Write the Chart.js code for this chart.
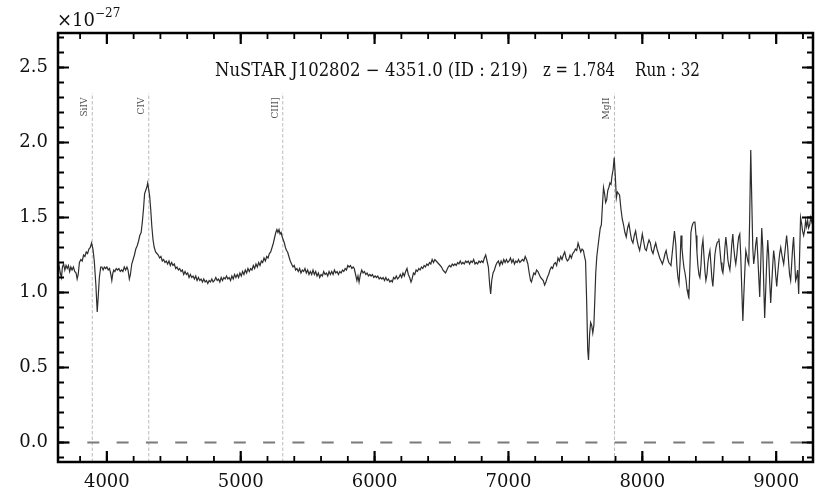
<!DOCTYPE html>
<html>
<head>
<meta charset="utf-8">
<script src="https://cdn.jsdelivr.net/npm/chart.js@4"></script>
<style>
  body { margin: 0; background: #fff; }
  #grafico { display: block; }
</style>
</head>
<body>
<canvas id="grafico" width="830" height="498"></canvas>
<script>
// Datos del espectro (flujo en unidades de 1e-27)
const longitudOnda = [
  3635, 3643, 3652, 3661, 3668, 3677, 3686, 3695, 3704, 3713, 3722, 3731, 3740, 3750, 3760, 3770, 3778, 3786, 3795, 3806,
  3816, 3826, 3836, 3846, 3856, 3866, 3876, 3886, 3896, 3906, 3918, 3928, 3936, 3944, 3954, 3963, 3972, 3981, 3991, 4000,
  4010, 4020, 4030, 4037, 4045, 4052, 4060, 4070, 4080, 4090, 4100, 4110, 4120, 4130, 4140, 4150, 4158, 4168, 4176, 4186,
  4196, 4206, 4216, 4226, 4236, 4246, 4256, 4265, 4274, 4282, 4290, 4298, 4305, 4312, 4320, 4328, 4336, 4345, 4354, 4364,
  4374, 4384, 4394, 4404, 4414, 4424, 4434, 4444, 4454, 4464, 4474, 4484, 4494, 4504, 4514, 4524, 4534, 4544, 4554, 4564,
  4574, 4584, 4594, 4604, 4614, 4624, 4634, 4644, 4654, 4664, 4674, 4684, 4694, 4704, 4714, 4724, 4734, 4744, 4754, 4764,
  4774, 4784, 4794, 4804, 4814, 4824, 4834, 4844, 4854, 4864, 4874, 4884, 4894, 4904, 4914, 4924, 4934, 4944, 4954, 4964,
  4974, 4984, 4994, 5004, 5014, 5024, 5034, 5044, 5054, 5064, 5074, 5084, 5094, 5104, 5114, 5124, 5134, 5144, 5154, 5164,
  5174, 5184, 5194, 5204, 5214, 5224, 5234, 5244, 5254, 5262, 5270, 5278, 5286, 5294, 5302, 5310, 5318, 5326, 5334, 5342,
  5350, 5360, 5370, 5380, 5390, 5400, 5410, 5420, 5430, 5440, 5450, 5460, 5470, 5480, 5490, 5500, 5510, 5520, 5530, 5540,
  5550, 5560, 5570, 5580, 5590, 5600, 5610, 5620, 5630, 5640, 5650, 5660, 5670, 5680, 5690, 5700, 5710, 5720, 5730, 5740,
  5750, 5760, 5770, 5780, 5790, 5800, 5810, 5820, 5830, 5840, 5848, 5858, 5868, 5876, 5884, 5894, 5904, 5914, 5924, 5934,
  5944, 5954, 5964, 5974, 5984, 5994, 6004, 6014, 6024, 6034, 6044, 6054, 6064, 6074, 6084, 6094, 6104, 6114, 6124, 6132,
  6142, 6152, 6162, 6172, 6182, 6192, 6202, 6212, 6222, 6232, 6242, 6252, 6262, 6272, 6280, 6290, 6300, 6310, 6320, 6330,
  6340, 6350, 6360, 6370, 6380, 6390, 6400, 6410, 6420, 6430, 6440, 6450, 6460, 6470, 6480, 6490, 6500, 6510, 6520, 6530,
  6540, 6550, 6560, 6570, 6580, 6590, 6600, 6610, 6620, 6630, 6640, 6650, 6660, 6670, 6680, 6690, 6700, 6710, 6720, 6730,
  6740, 6750, 6760, 6770, 6780, 6790, 6800, 6810, 6820, 6830, 6840, 6850, 6860, 6867, 6875, 6885, 6895, 6905, 6915, 6925,
  6935, 6945, 6955, 6965, 6975, 6985, 6995, 7005, 7015, 7025, 7035, 7045, 7055, 7065, 7075, 7085, 7095, 7105, 7115, 7125,
  7135, 7145, 7155, 7165, 7172, 7180, 7190, 7200, 7210, 7220, 7230, 7240, 7250, 7260, 7270, 7280, 7290, 7300, 7310, 7320,
  7330, 7340, 7350, 7360, 7370, 7380, 7390, 7400, 7410, 7420, 7430, 7440, 7450, 7460, 7470, 7480, 7490, 7500, 7510, 7520,
  7530, 7540, 7550, 7560, 7568, 7576, 7584, 7592, 7598, 7606, 7614, 7622, 7630, 7638, 7645, 7652, 7660, 7668, 7676, 7686,
  7694, 7702, 7710, 7718, 7726, 7734, 7742, 7750, 7758, 7766, 7774, 7782, 7790, 7798, 7806, 7814, 7822, 7830, 7840, 7850,
  7860, 7870, 7880, 7890, 7900, 7910, 7920, 7930, 7940, 7950, 7960, 7970, 7980, 7990, 8000, 8010, 8020, 8030, 8040, 8050,
  8060, 8070, 8080, 8090, 8100, 8110, 8120, 8130, 8140, 8150, 8160, 8170, 8178, 8188, 8198, 8206, 8214, 8222, 8230, 8240,
  8250, 8258, 8266, 8274, 8282, 8289, 8296, 8304, 8312, 8319, 8327, 8334, 8341, 8348, 8356, 8363, 8371, 8378, 8386, 8393,
  8401, 8408, 8415, 8423, 8430, 8438, 8445, 8453, 8460, 8468, 8475, 8483, 8490, 8498, 8505, 8513, 8520, 8527, 8535, 8542,
  8550, 8558, 8566, 8572, 8580, 8588, 8595, 8602, 8610, 8617, 8624, 8632, 8639, 8646, 8654, 8661, 8668, 8676, 8683, 8691,
  8698, 8706, 8713, 8720, 8728, 8735, 8742, 8751, 8758, 8766, 8773, 8780, 8788, 8795, 8802, 8810, 8818, 8825, 8832, 8840,
  8847, 8855, 8862, 8870, 8877, 8885, 8892, 8900, 8907, 8914, 8922, 8929, 8937, 8944, 8951, 8959, 8966, 8974, 8981, 8989,
  8996, 9004, 9011, 9019, 9026, 9034, 9041, 9049, 9056, 9063, 9071, 9078, 9086, 9093, 9100, 9108, 9115, 9123, 9130, 9138,
  9145, 9152, 9160, 9168, 9175, 9182, 9190, 9197, 9205, 9212, 9220, 9227, 9235, 9242, 9250, 9258, 9266, 9272
];
const flujo = [
  1.15, 1.18, 1.13, 1.10, 1.17, 1.19, 1.15, 1.18, 1.16, 1.18, 1.14, 1.17, 1.15, 1.17, 1.14, 1.13, 1.09, 1.12, 1.20, 1.22,
  1.21, 1.25, 1.24, 1.27, 1.26, 1.29, 1.30, 1.33, 1.29, 1.21, 1.05, 0.87, 0.98, 1.10, 1.17, 1.17, 1.15, 1.17, 1.16, 1.17,
  1.15, 1.16, 1.12, 1.08, 1.13, 1.15, 1.14, 1.16, 1.15, 1.16, 1.14, 1.15, 1.14, 1.17, 1.15, 1.17, 1.15, 1.09, 1.12, 1.19,
  1.22, 1.25, 1.29, 1.31, 1.34, 1.38, 1.40, 1.47, 1.56, 1.66, 1.68, 1.70, 1.73, 1.69, 1.64, 1.55, 1.44, 1.35, 1.30, 1.27,
  1.26, 1.25, 1.23, 1.24, 1.21, 1.22, 1.20, 1.21, 1.19, 1.21, 1.18, 1.20, 1.18, 1.19, 1.16, 1.17, 1.15, 1.16, 1.14, 1.15,
  1.12, 1.14, 1.12, 1.13, 1.10, 1.12, 1.10, 1.11, 1.09, 1.11, 1.08, 1.10, 1.08, 1.09, 1.07, 1.09, 1.07, 1.08, 1.06, 1.08,
  1.07, 1.09, 1.07, 1.08, 1.10, 1.08, 1.09, 1.07, 1.10, 1.08, 1.10, 1.09, 1.11, 1.09, 1.10, 1.08, 1.11, 1.09, 1.12, 1.10,
  1.12, 1.10, 1.13, 1.11, 1.14, 1.12, 1.15, 1.13, 1.16, 1.14, 1.16, 1.15, 1.18, 1.16, 1.19, 1.17, 1.20, 1.18, 1.21, 1.20,
  1.23, 1.21, 1.24, 1.23, 1.26, 1.27, 1.30, 1.33, 1.37, 1.40, 1.42, 1.40, 1.42, 1.39, 1.40, 1.37, 1.35, 1.33, 1.30, 1.28,
  1.27, 1.24, 1.21, 1.19, 1.17, 1.18, 1.15, 1.16, 1.14, 1.16, 1.13, 1.15, 1.14, 1.16, 1.13, 1.15, 1.12, 1.14, 1.12, 1.15,
  1.12, 1.14, 1.11, 1.13, 1.10, 1.12, 1.11, 1.14, 1.12, 1.13, 1.11, 1.14, 1.12, 1.14, 1.12, 1.15, 1.13, 1.14, 1.12, 1.14,
  1.13, 1.15, 1.14, 1.16, 1.15, 1.18, 1.17, 1.18, 1.16, 1.17, 1.16, 1.12, 1.08, 1.11, 1.07, 1.12, 1.15, 1.13, 1.14, 1.12,
  1.13, 1.11, 1.12, 1.11, 1.12, 1.10, 1.11, 1.10, 1.11, 1.09, 1.10, 1.09, 1.10, 1.08, 1.10, 1.08, 1.09, 1.07, 1.08, 1.07,
  1.10, 1.09, 1.11, 1.09, 1.10, 1.12, 1.10, 1.13, 1.11, 1.14, 1.16, 1.12, 1.10, 1.07, 1.09, 1.13, 1.12, 1.15, 1.14, 1.16,
  1.15, 1.17, 1.16, 1.18, 1.17, 1.19, 1.18, 1.20, 1.19, 1.22, 1.20, 1.22, 1.21, 1.20, 1.19, 1.18, 1.17, 1.15, 1.14, 1.13,
  1.15, 1.17, 1.18, 1.17, 1.19, 1.18, 1.19, 1.18, 1.20, 1.19, 1.21, 1.19, 1.20, 1.19, 1.21, 1.20, 1.21, 1.19, 1.21, 1.20,
  1.22, 1.19, 1.20, 1.19, 1.21, 1.20, 1.21, 1.20, 1.23, 1.25, 1.21, 1.17, 1.05, 0.99, 1.08, 1.13, 1.15, 1.18, 1.20, 1.21,
  1.18, 1.21, 1.19, 1.22, 1.20, 1.22, 1.20, 1.21, 1.23, 1.20, 1.22, 1.19, 1.21, 1.20, 1.22, 1.20, 1.21, 1.22, 1.21, 1.24,
  1.22, 1.19, 1.13, 1.08, 1.07, 1.10, 1.13, 1.12, 1.15, 1.14, 1.12, 1.10, 1.09, 1.08, 1.05, 1.07, 1.10, 1.12, 1.15, 1.17,
  1.16, 1.19, 1.20, 1.18, 1.23, 1.21, 1.24, 1.22, 1.25, 1.27, 1.23, 1.21, 1.22, 1.25, 1.23, 1.26, 1.27, 1.29, 1.28, 1.33,
  1.30, 1.27, 1.29, 1.28, 1.24, 1.21, 0.95, 0.62, 0.55, 0.72, 0.80, 0.78, 0.73, 0.78, 0.95, 1.13, 1.24, 1.30, 1.36, 1.43,
  1.45, 1.58, 1.70, 1.66, 1.60, 1.62, 1.68, 1.70, 1.73, 1.72, 1.78, 1.82, 1.90, 1.78, 1.63, 1.67, 1.66, 1.65, 1.56, 1.49,
  1.45, 1.40, 1.37, 1.43, 1.46, 1.40, 1.35, 1.33, 1.38, 1.41, 1.35, 1.31, 1.28, 1.33, 1.39, 1.34, 1.29, 1.28, 1.32, 1.35,
  1.33, 1.28, 1.26, 1.30, 1.33, 1.29, 1.26, 1.23, 1.21, 1.19, 1.22, 1.26, 1.28, 1.23, 1.20, 1.19, 1.18, 1.25, 1.32, 1.41,
  1.32, 1.18, 1.10, 1.06, 1.20, 1.38, 1.30, 1.22, 1.16, 1.13, 1.08, 1.02, 0.99, 0.97, 1.18, 1.40, 1.44, 1.46, 1.47, 1.47,
  1.38, 1.27, 1.18, 1.12, 1.10, 1.18, 1.30, 1.35, 1.25, 1.14, 1.08, 1.12, 1.20, 1.25, 1.28, 1.18, 1.09, 1.04, 1.15, 1.25,
  1.30, 1.33, 1.34, 1.36, 1.28, 1.20, 1.15, 1.13, 1.20, 1.30, 1.37, 1.30, 1.22, 1.18, 1.15, 1.22, 1.32, 1.39, 1.30, 1.23,
  1.19, 1.25, 1.32, 1.37, 1.39, 1.25, 1.05, 0.81, 0.98, 1.15, 1.28, 1.25, 1.21, 1.19, 1.50, 1.95, 1.60, 1.30, 1.19, 1.25,
  1.32, 1.37, 1.25, 1.10, 0.97, 1.20, 1.43, 1.30, 1.05, 0.83, 1.02, 1.20, 1.35, 1.25, 1.08, 0.93, 1.05, 1.18, 1.28, 1.22,
  1.12, 1.04, 1.12, 1.20, 1.26, 1.30, 1.26, 1.22, 1.19, 1.25, 1.32, 1.38, 1.30, 1.20, 1.12, 1.08, 1.18, 1.30, 1.37, 1.22,
  1.08, 1.10, 1.15, 0.99, 1.25, 1.50, 1.46, 1.41, 1.38, 1.41, 1.48, 1.44, 1.48, 1.43, 1.45, 1.50, 1.47, 1.49
];

// ejes y marcas
const xMin = 3635, xMax = 9275;
const yMin = -0.13, yMax = 2.73;
const ticksX = [4000, 5000, 6000, 7000, 8000, 9000];
const ticksXMenor = [3800, 4000, 4200, 4400, 4600, 4800, 5000, 5200, 5400, 5600, 5800, 6000, 6200, 6400,
  6600, 6800, 7000, 7200, 7400, 7600, 7800, 8000, 8200, 8400, 8600, 8800, 9000, 9200];
const ticksY = [0.0, 0.5, 1.0, 1.5, 2.0, 2.5];
const ticksYMenor = [-0.1, 0.0, 0.1, 0.2, 0.3, 0.4, 0.5, 0.6, 0.7, 0.8, 0.9, 1.0, 1.1, 1.2, 1.3, 1.4,
  1.5, 1.6, 1.7, 1.8, 1.9, 2.0, 2.1, 2.2, 2.3, 2.4, 2.5, 2.6, 2.7];

// lineas de emision (z = 1.784)
const lineasNombre = ['SiIV', 'CIV', 'CIII]', 'MgII'];
const lineasLambda = [3891, 4313, 5314, 7792];
const lineasTope = 2.33;

const textoTitulo = ['NuSTAR J102802 \u2212 4351.0 (ID : 219)', 'z = 1.784', 'Run : 32'];

const fuente = '"DejaVu Serif", "Liberation Serif", serif';

// plugin para marco, marcas hacia adentro y textos
const marco = {
  id: 'marco',
  afterDatasetsDraw(chart) {
    const ctx = chart.ctx;
    const a = chart.chartArea;
    const x = chart.scales.x;
    const y = chart.scales.y;
    ctx.save();

    // nombres de las lineas
    ctx.fillStyle = '#555';
    ctx.font = '9px ' + fuente;
    lineasLambda.forEach((l, i) => {
      ctx.save();
      ctx.translate(x.getPixelForValue(l) - 3, y.getPixelForValue(2.30));
      ctx.rotate(-Math.PI / 2);
      ctx.textAlign = 'right';
      ctx.textBaseline = 'bottom';
      ctx.fillText(lineasNombre[i], 0, 0);
      ctx.restore();
    });

    // marcas
    ctx.strokeStyle = '#000';
    const marcaX = (vals, largo, ancho) => {
      ctx.lineWidth = ancho;
      vals.forEach(v => {
        const px = x.getPixelForValue(v);
        ctx.beginPath();
        ctx.moveTo(px, a.bottom); ctx.lineTo(px, a.bottom - largo);
        ctx.moveTo(px, a.top); ctx.lineTo(px, a.top + largo);
        ctx.stroke();
      });
    };
    const marcaY = (vals, largo, ancho) => {
      ctx.lineWidth = ancho;
      vals.forEach(v => {
        const py = y.getPixelForValue(v);
        ctx.beginPath();
        ctx.moveTo(a.left, py); ctx.lineTo(a.left + largo, py);
        ctx.moveTo(a.right, py); ctx.lineTo(a.right - largo, py);
        ctx.stroke();
      });
    };
    marcaX(ticksXMenor, 6, 1.8);
    marcaX(ticksX, 11, 2.2);
    marcaY(ticksYMenor, 6, 1.8);
    marcaY(ticksY, 11, 2.2);

    ctx.lineWidth = 2.5;
    ctx.strokeRect(a.left, a.top, a.right - a.left, a.bottom - a.top);

    // titulo
    ctx.fillStyle = '#111';
    ctx.font = '18px ' + fuente;
    ctx.textAlign = 'left';
    ctx.textBaseline = 'alphabetic';
    ctx.fillText(textoTitulo[0], 215, 76, 313);
    ctx.fillText(textoTitulo[1], 543, 76, 72);
    ctx.fillText(textoTitulo[2], 635, 76, 65);

    // exponente
    ctx.fillText('\u00d710', 57, 26);
    ctx.font = '12px ' + fuente;
    ctx.fillText('\u221227', 95, 17);

    ctx.restore();
  }
};

const ctx = document.getElementById('grafico').getContext('2d');
new Chart(ctx, {
  type: 'line',
  data: {
    datasets: [
      {
        data: longitudOnda.map((l, i) => ({ x: l, y: flujo[i] })),
        borderColor: '#2e2e2e',
        borderWidth: 1.2,
        pointRadius: 0,
        tension: 0
      },
      {
        data: [{ x: xMin, y: 0 }, { x: xMax, y: 0 }],
        borderColor: '#7a7a7a',
        borderWidth: 2,
        borderDash: [12, 17.3],
        pointRadius: 0
      },
      ...lineasLambda.map(l => ({
        data: [{ x: l, y: yMin }, { x: l, y: lineasTope }],
        borderColor: '#bbb',
        borderWidth: 1,
        borderDash: [3.5, 2],
        pointRadius: 0
      }))
    ]
  },
  options: {
    responsive: false,
    animation: false,
    layout: { padding: { top: 33, right: 17, left: 0, bottom: 0 } },
    plugins: { legend: { display: false }, tooltip: { enabled: false } },
    scales: {
      x: {
        type: 'linear',
        min: xMin,
        max: xMax,
        grid: { display: false, drawTicks: false },
        border: { display: false },
        ticks: {
          padding: 10,
          color: '#111',
          maxRotation: 0,
          font: { family: fuente, size: 18 },
          callback: v => String(v)
        },
        afterBuildTicks: s => { s.ticks = ticksX.map(v => ({ value: v })); },
        afterFit: s => { s.height = 36; }
      },
      y: {
        type: 'linear',
        min: yMin,
        max: yMax,
        grid: { display: false, drawTicks: false },
        border: { display: false },
        ticks: {
          padding: 10,
          color: '#111',
          font: { family: fuente, size: 18 },
          callback: v => v.toFixed(1)
        },
        afterBuildTicks: s => { s.ticks = ticksY.map(v => ({ value: v })); },
        afterFit: s => { s.width = 58; }
      }
    }
  },
  plugins: [marco]
});
</script>
</body>
</html>
